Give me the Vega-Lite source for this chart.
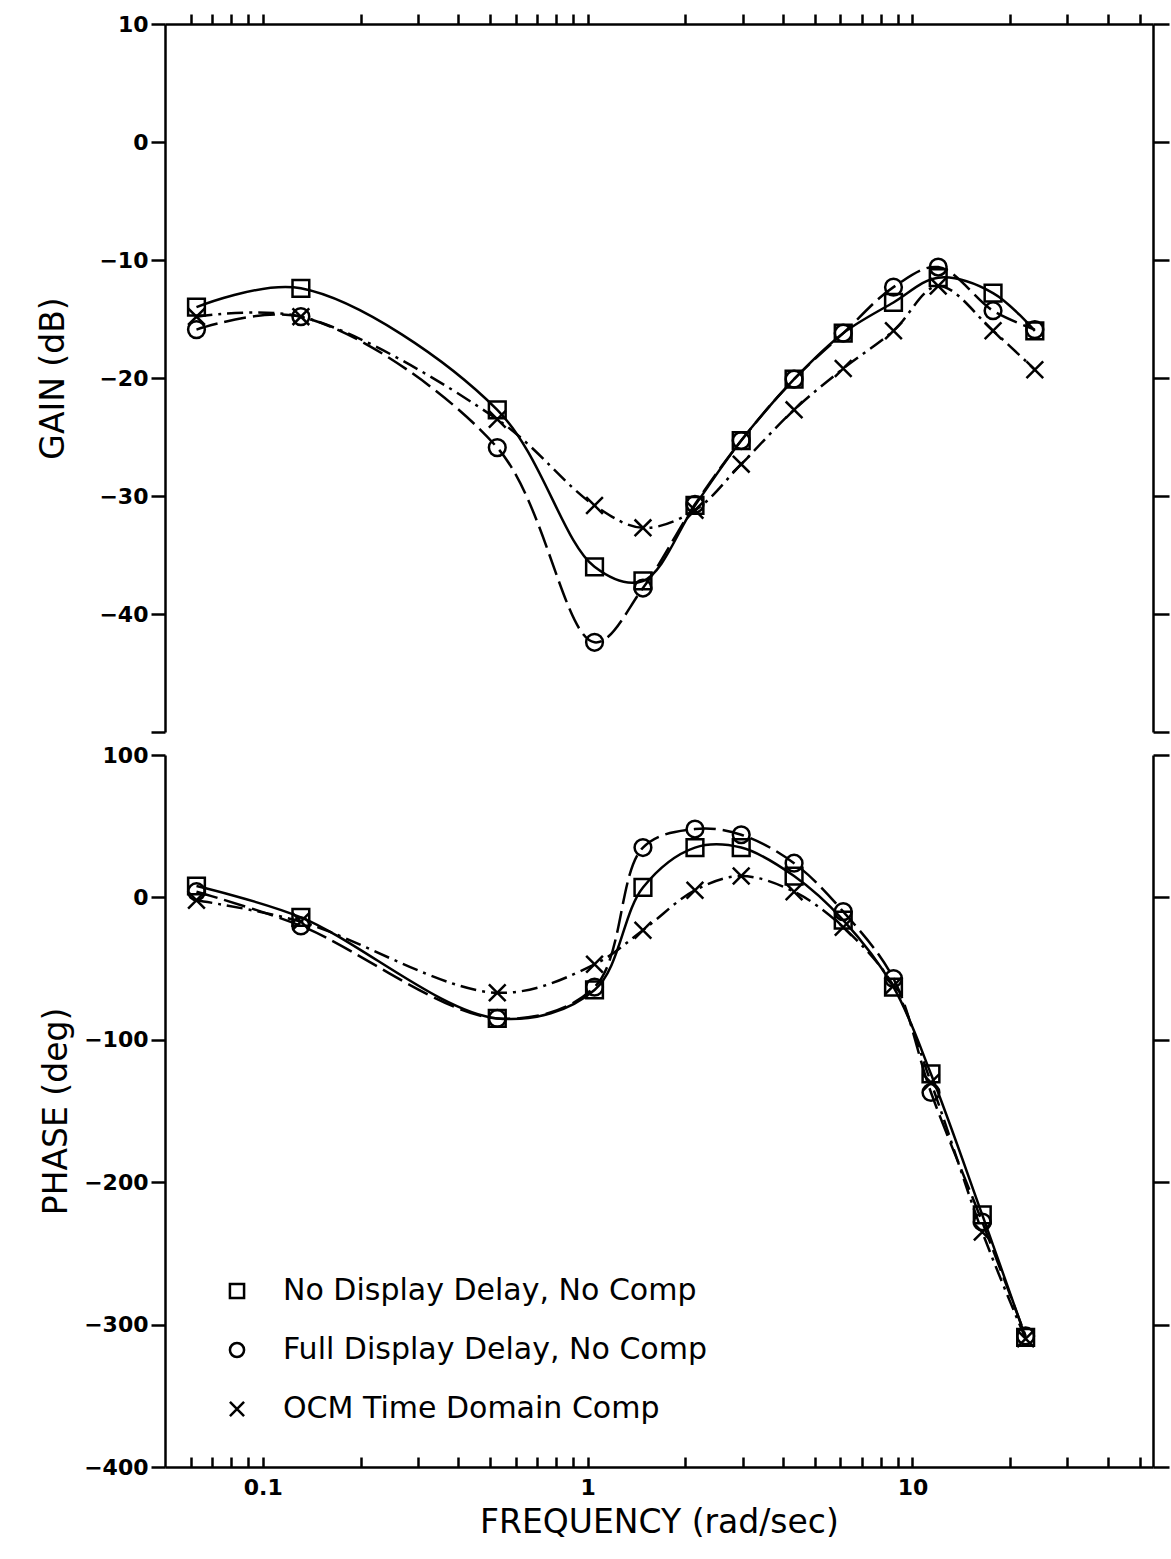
{
  "$schema": "https://vega.github.io/schema/vega-lite/v6.json",
  "background": "white",
  "padding": {"left": 37, "top": 12, "right": 5, "bottom": 3},
  "config": {
    "view": {"stroke": null},
    "font": "DejaVu Sans",
    "axis": {
      "domainColor": "black", "domainWidth": 2.5, "tickColor": "black", "tickWidth": 2.5,
      "labelColor": "black", "titleColor": "black", "labelFont": "DejaVu Sans", "labelFontWeight": "bold",
      "labelFontSize": 22, "titleFont": "DejaVu Sans", "titleFontWeight": "normal", "titleFontSize": 33,
      "grid": false, "labelOverlap": false, "labelFlush": false
    },
    "legend": {
      "labelFont": "DejaVu Sans", "labelFontSize": 30, "labelColor": "black",
      "symbolStrokeColor": "black", "symbolFillColor": "transparent", "symbolStrokeWidth": 2.5,
      "symbolSize": 200, "rowPadding": 29, "labelOffset": 31, "labelLimit": 700
    }
  },
  "datasets": {
    "gain": [
      {"series": "No Display Delay, No Comp", "f": 0.0625, "v": -14.0},
      {"series": "No Display Delay, No Comp", "f": 0.131, "v": -12.4},
      {"series": "No Display Delay, No Comp", "f": 0.527, "v": -22.7},
      {"series": "No Display Delay, No Comp", "f": 1.05, "v": -36.0},
      {"series": "No Display Delay, No Comp", "f": 1.48, "v": -37.2},
      {"series": "No Display Delay, No Comp", "f": 2.14, "v": -30.8},
      {"series": "No Display Delay, No Comp", "f": 2.97, "v": -25.3},
      {"series": "No Display Delay, No Comp", "f": 4.32, "v": -20.1},
      {"series": "No Display Delay, No Comp", "f": 6.12, "v": -16.2},
      {"series": "No Display Delay, No Comp", "f": 8.74, "v": -13.6},
      {"series": "No Display Delay, No Comp", "f": 12.0, "v": -11.5},
      {"series": "No Display Delay, No Comp", "f": 17.7, "v": -12.8},
      {"series": "No Display Delay, No Comp", "f": 23.8, "v": -16.0},
      {"series": "Full Display Delay, No Comp", "f": 0.0625, "v": -15.9},
      {"series": "Full Display Delay, No Comp", "f": 0.131, "v": -14.8},
      {"series": "Full Display Delay, No Comp", "f": 0.527, "v": -25.9},
      {"series": "Full Display Delay, No Comp", "f": 1.05, "v": -42.4},
      {"series": "Full Display Delay, No Comp", "f": 1.48, "v": -37.8},
      {"series": "Full Display Delay, No Comp", "f": 2.14, "v": -30.7},
      {"series": "Full Display Delay, No Comp", "f": 2.97, "v": -25.3},
      {"series": "Full Display Delay, No Comp", "f": 4.32, "v": -20.1},
      {"series": "Full Display Delay, No Comp", "f": 6.12, "v": -16.2},
      {"series": "Full Display Delay, No Comp", "f": 8.74, "v": -12.3},
      {"series": "Full Display Delay, No Comp", "f": 12.0, "v": -10.6},
      {"series": "Full Display Delay, No Comp", "f": 17.7, "v": -14.3},
      {"series": "Full Display Delay, No Comp", "f": 23.8, "v": -15.9},
      {"series": "OCM Time Domain Comp", "f": 0.0625, "v": -14.8},
      {"series": "OCM Time Domain Comp", "f": 0.131, "v": -14.8},
      {"series": "OCM Time Domain Comp", "f": 0.527, "v": -23.5},
      {"series": "OCM Time Domain Comp", "f": 1.05, "v": -30.8},
      {"series": "OCM Time Domain Comp", "f": 1.48, "v": -32.7},
      {"series": "OCM Time Domain Comp", "f": 2.14, "v": -31.2},
      {"series": "OCM Time Domain Comp", "f": 2.97, "v": -27.3},
      {"series": "OCM Time Domain Comp", "f": 4.32, "v": -22.7},
      {"series": "OCM Time Domain Comp", "f": 6.12, "v": -19.2},
      {"series": "OCM Time Domain Comp", "f": 8.74, "v": -16.0},
      {"series": "OCM Time Domain Comp", "f": 12.0, "v": -12.2},
      {"series": "OCM Time Domain Comp", "f": 17.7, "v": -16.0},
      {"series": "OCM Time Domain Comp", "f": 23.8, "v": -19.3}
    ],
    "phase": [
      {"series": "No Display Delay, No Comp", "f": 0.0625, "v": 8},
      {"series": "No Display Delay, No Comp", "f": 0.131, "v": -14},
      {"series": "No Display Delay, No Comp", "f": 0.527, "v": -85},
      {"series": "No Display Delay, No Comp", "f": 1.05, "v": -65},
      {"series": "No Display Delay, No Comp", "f": 1.48, "v": 7},
      {"series": "No Display Delay, No Comp", "f": 2.14, "v": 35},
      {"series": "No Display Delay, No Comp", "f": 2.97, "v": 35},
      {"series": "No Display Delay, No Comp", "f": 4.32, "v": 15},
      {"series": "No Display Delay, No Comp", "f": 6.12, "v": -16},
      {"series": "No Display Delay, No Comp", "f": 8.74, "v": -63},
      {"series": "No Display Delay, No Comp", "f": 11.4, "v": -124},
      {"series": "No Display Delay, No Comp", "f": 16.4, "v": -223},
      {"series": "No Display Delay, No Comp", "f": 22.3, "v": -309},
      {"series": "Full Display Delay, No Comp", "f": 0.0625, "v": 4},
      {"series": "Full Display Delay, No Comp", "f": 0.131, "v": -20},
      {"series": "Full Display Delay, No Comp", "f": 0.527, "v": -85},
      {"series": "Full Display Delay, No Comp", "f": 1.05, "v": -63},
      {"series": "Full Display Delay, No Comp", "f": 1.48, "v": 35},
      {"series": "Full Display Delay, No Comp", "f": 2.14, "v": 48},
      {"series": "Full Display Delay, No Comp", "f": 2.97, "v": 44},
      {"series": "Full Display Delay, No Comp", "f": 4.32, "v": 24},
      {"series": "Full Display Delay, No Comp", "f": 6.12, "v": -10},
      {"series": "Full Display Delay, No Comp", "f": 8.74, "v": -57},
      {"series": "Full Display Delay, No Comp", "f": 11.4, "v": -137},
      {"series": "Full Display Delay, No Comp", "f": 16.4, "v": -228},
      {"series": "Full Display Delay, No Comp", "f": 22.3, "v": -308},
      {"series": "OCM Time Domain Comp", "f": 0.0625, "v": -2},
      {"series": "OCM Time Domain Comp", "f": 0.131, "v": -17},
      {"series": "OCM Time Domain Comp", "f": 0.527, "v": -67},
      {"series": "OCM Time Domain Comp", "f": 1.05, "v": -47},
      {"series": "OCM Time Domain Comp", "f": 1.48, "v": -23},
      {"series": "OCM Time Domain Comp", "f": 2.14, "v": 5},
      {"series": "OCM Time Domain Comp", "f": 2.97, "v": 15},
      {"series": "OCM Time Domain Comp", "f": 4.32, "v": 4},
      {"series": "OCM Time Domain Comp", "f": 6.12, "v": -21},
      {"series": "OCM Time Domain Comp", "f": 8.74, "v": -62},
      {"series": "OCM Time Domain Comp", "f": 11.4, "v": -130},
      {"series": "OCM Time Domain Comp", "f": 16.4, "v": -235},
      {"series": "OCM Time Domain Comp", "f": 22.3, "v": -310}
    ]
  },
  "spacing": 23,
  "bounds": "flush",
  "resolve": {"legend": {"shape": "independent"}},
  "vconcat": [
    {
      "width": 988,
      "height": 708,
      "data": {"name": "gain"},
      "resolve": {"axis": {"y": "independent"}},
      "layer": [
        {
          "encoding": {
            "x": {"field": "f", "type": "quantitative",
              "scale": {"type": "log", "domain": [0.05, 55], "nice": false},
              "axis": {"orient": "top", "title": null, "labels": false, "tickSize": 10,
                "values": [0.06, 0.07, 0.08, 0.09, 0.1, 0.2, 0.3, 0.4, 0.5, 0.6, 0.7, 0.8, 0.9, 1, 2, 3, 4, 5, 6, 7, 8, 9, 10, 20, 30, 40, 50]}},
            "y": {"field": "v", "type": "quantitative",
              "scale": {"domain": [-50, 10], "nice": false},
              "axis": {"orient": "left", "title": "GAIN (dB)", "tickSize": 14, "labelPadding": 3, "titlePadding": 28,
                "values": [-50, -40, -30, -20, -10, 0, 10],
                "labelExpr": "datum.value == -50 ? '' : datum.label"}}
          },
          "layer": [
            {"transform": [{"filter": "datum.series == 'No Display Delay, No Comp'"}],
             "mark": {"type": "line", "interpolate": "catmull-rom", "color": "black", "strokeWidth": 2.5}},
            {"transform": [{"filter": "datum.series == 'Full Display Delay, No Comp'"}],
             "mark": {"type": "line", "interpolate": "catmull-rom", "color": "black", "strokeWidth": 2.5, "strokeDash": [22, 7]}},
            {"transform": [{"filter": "datum.series == 'OCM Time Domain Comp'"}],
             "mark": {"type": "line", "interpolate": "catmull-rom", "color": "black", "strokeWidth": 2.5, "strokeDash": [16, 6, 3, 6]}}
          ]
        },
        {
          "mark": {"type": "point", "filled": false, "color": "black", "strokeWidth": 2.5, "size": 280, "opacity": 1},
          "encoding": {
            "x": {"field": "f", "type": "quantitative",
              "scale": {"type": "log", "domain": [0.05, 55], "nice": false},
              "axis": {"orient": "top", "title": null, "labels": false, "tickSize": 10,
                "values": [0.06, 0.07, 0.08, 0.09, 0.1, 0.2, 0.3, 0.4, 0.5, 0.6, 0.7, 0.8, 0.9, 1, 2, 3, 4, 5, 6, 7, 8, 9, 10, 20, 30, 40, 50]}},
            "y": {"field": "v", "type": "quantitative",
              "scale": {"domain": [-50, 10], "nice": false},
              "axis": {"orient": "right", "title": null, "labels": false, "tickSize": 16,
                "values": [-50, -40, -30, -20, -10, 0, 10]}},
            "shape": {"field": "series", "type": "nominal",
              "scale": {"domain": ["No Display Delay, No Comp", "Full Display Delay, No Comp", "OCM Time Domain Comp"],
                "range": ["square", "circle", "M-1,-1L1,1M-1,1L1,-1"]},
              "legend": null}
          }
        }
      ]
    },
    {
      "width": 988,
      "height": 712,
      "data": {"name": "phase"},
      "resolve": {"axis": {"y": "independent"}},
      "layer": [
        {
          "encoding": {
            "x": {"field": "f", "type": "quantitative",
              "scale": {"type": "log", "domain": [0.05, 55], "nice": false},
              "axis": {"orient": "bottom", "title": "FREQUENCY (rad/sec)", "tickSize": -10, "labelPadding": 20, "titlePadding": 8,
                "values": [0.06, 0.07, 0.08, 0.09, 0.1, 0.2, 0.3, 0.4, 0.5, 0.6, 0.7, 0.8, 0.9, 1, 2, 3, 4, 5, 6, 7, 8, 9, 10, 20, 30, 40, 50],
                "labelExpr": "datum.value == 0.1 ? '0.1' : datum.value == 1 ? '1' : datum.value == 10 ? '10' : ''"}},
            "y": {"field": "v", "type": "quantitative",
              "scale": {"domain": [-400, 100], "nice": false},
              "axis": {"orient": "left", "title": "PHASE (deg)", "tickSize": 14, "labelPadding": 3, "titlePadding": 10,
                "values": [-400, -300, -200, -100, 0, 100]}}
          },
          "layer": [
            {"transform": [{"filter": "datum.series == 'No Display Delay, No Comp'"}],
             "mark": {"type": "line", "interpolate": "catmull-rom", "color": "black", "strokeWidth": 2.5}},
            {"transform": [{"filter": "datum.series == 'Full Display Delay, No Comp'"}],
             "mark": {"type": "line", "interpolate": "catmull-rom", "color": "black", "strokeWidth": 2.5, "strokeDash": [22, 7]}},
            {"transform": [{"filter": "datum.series == 'OCM Time Domain Comp'"}],
             "mark": {"type": "line", "interpolate": "catmull-rom", "color": "black", "strokeWidth": 2.5, "strokeDash": [16, 6, 3, 6]}}
          ]
        },
        {
          "mark": {"type": "point", "filled": false, "color": "black", "strokeWidth": 2.5, "size": 280, "opacity": 1},
          "encoding": {
            "x": {"field": "f", "type": "quantitative",
              "scale": {"type": "log", "domain": [0.05, 55], "nice": false},
              "axis": {"orient": "bottom", "title": "FREQUENCY (rad/sec)", "tickSize": -10, "labelPadding": 20, "titlePadding": 8,
                "values": [0.06, 0.07, 0.08, 0.09, 0.1, 0.2, 0.3, 0.4, 0.5, 0.6, 0.7, 0.8, 0.9, 1, 2, 3, 4, 5, 6, 7, 8, 9, 10, 20, 30, 40, 50],
                "labelExpr": "datum.value == 0.1 ? '0.1' : datum.value == 1 ? '1' : datum.value == 10 ? '10' : ''"}},
            "y": {"field": "v", "type": "quantitative",
              "scale": {"domain": [-400, 100], "nice": false},
              "axis": {"orient": "right", "title": null, "labels": false, "tickSize": 16,
                "values": [-400, -300, -200, -100, 0, 100]}},
            "shape": {"field": "series", "type": "nominal",
              "scale": {"domain": ["No Display Delay, No Comp", "Full Display Delay, No Comp", "OCM Time Domain Comp"],
                "range": ["square", "circle", "M-1,-1L1,1M-1,1L1,-1"]},
              "legend": {"title": null, "orient": "none", "legendX": 57, "legendY": 521}}
          }
        }
      ]
    }
  ]
}
